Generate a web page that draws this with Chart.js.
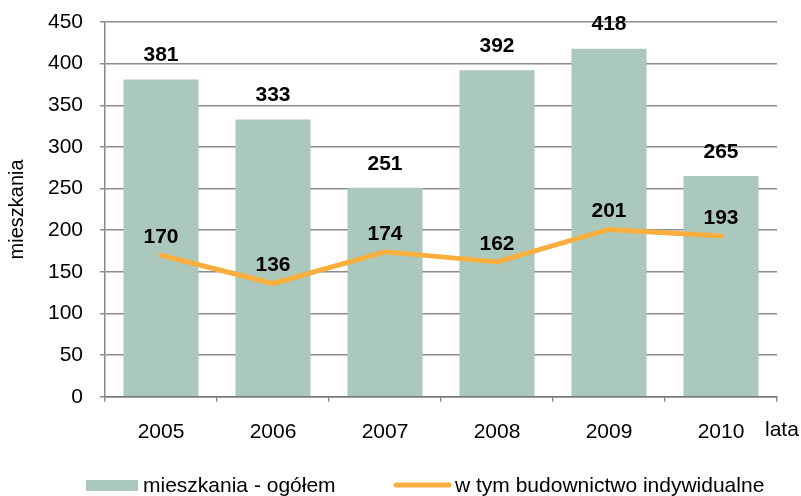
<!DOCTYPE html>
<html>
<head>
<meta charset="utf-8">
<script src="https://cdn.jsdelivr.net/npm/chart.js@4/dist/chart.umd.min.js"></script>
<style>
html,body{margin:0;padding:0;background:#fff;}
#wrap{width:801px;height:496px;position:relative;}
</style>
</head>
<body>
<div id="wrap"><canvas id="c" width="801" height="496"></canvas></div>
<script>
const years = ['2005','2006','2007','2008','2009','2010'];
const totalDwellings = [381, 333, 251, 392, 418, 265];
const individualDwellings = [170, 136, 174, 162, 201, 193];
const yTicks = [0, 50, 100, 150, 200, 250, 300, 350, 400, 450];
const seriesNames = ['mieszkania - ogółem', 'w tym budownictwo indywidualne'];
const yTitle = 'mieszkania';
const xTitle = 'lata';

const FONT = '"Liberation Sans", Arial, sans-serif';
const BAR_COLOR = '#ABC8BD';
const LINE_COLOR = '#FAAE3E';
const GRID = '#8c8c8c';

const labelPlugin = {
  id: 'labels',
  afterDatasetsDraw(chart) {
    const ctx = chart.ctx;
    const ds = chart.data.datasets;
    const barIdx = ds.findIndex(d => d.type === 'bar');
    const lineIdx = ds.findIndex(d => d.type === 'line');
    ctx.save();
    ctx.font = 'bold 21px ' + FONT;
    ctx.fillStyle = '#000';
    ctx.textAlign = 'center';
    ctx.textBaseline = 'middle';
    chart.getDatasetMeta(barIdx).data.forEach((el, i) => {
      ctx.fillText(String(ds[barIdx].data[i]), el.x, el.y - 24);
    });
    chart.getDatasetMeta(lineIdx).data.forEach((el, i) => {
      ctx.fillText(String(ds[lineIdx].data[i]), el.x, el.y - 18);
    });
    ctx.font = '21px ' + FONT;
    ctx.textAlign = 'left';
    ctx.fillText(xTitle, chart.chartArea.right - 12, chart.chartArea.bottom + 33);
    // legend
    const ly = 485;
    ctx.fillStyle = BAR_COLOR;
    ctx.fillRect(86, ly - 5, 52, 11);
    ctx.fillStyle = '#000';
    ctx.fillText(ds[barIdx].label, 143, ly + 1);
    ctx.strokeStyle = LINE_COLOR;
    ctx.lineWidth = 5;
    ctx.lineCap = 'round';
    ctx.beginPath();
    ctx.moveTo(396, ly);
    ctx.lineTo(449, ly);
    ctx.stroke();
    ctx.fillText(ds[lineIdx].label, 455, ly + 1);
    ctx.restore();
  }
};

new Chart(document.getElementById('c'), {
  data: {
    labels: years,
    datasets: [
      {
        type: 'line',
        label: seriesNames[1],
        data: individualDwellings,
        borderColor: LINE_COLOR,
        backgroundColor: LINE_COLOR,
        borderWidth: 5,
        borderCapStyle: 'round',
        borderJoinStyle: 'round',
        pointRadius: 0,
        tension: 0,
        order: 0
      },
      {
        type: 'bar',
        label: seriesNames[0],
        data: totalDwellings,
        backgroundColor: BAR_COLOR,
        borderWidth: 0,
        categoryPercentage: 1,
        barPercentage: 0.67,
        order: 1
      }
    ]
  },
  options: {
    responsive: false,
    animation: false,
    devicePixelRatio: 1,
    layout: { padding: { left: 0, right: 24, top: 22, bottom: 33 } },
    plugins: { legend: { display: false }, tooltip: { enabled: false } },
    scales: {
      x: {
        type: 'category',
        offset: true,
        grid: { offset: true, drawOnChartArea: false, drawTicks: true, tickLength: 5, color: GRID, lineWidth: 1.5 },
        border: { display: true, color: '#777', width: 1.5 },
        ticks: { color: '#000', font: { family: FONT, size: 21 }, padding: 18, maxRotation: 0 },
        afterFit(scale) { scale.paddingLeft = 0; scale.paddingRight = 0; }
      },
      y: {
        min: 0,
        max: 450,
        afterBuildTicks(scale) { scale.ticks = yTicks.map(v => ({ value: v })); },
        afterFit(scale) { scale.width = 105; scale.paddingTop = 0; scale.paddingBottom = 0; },
        grid: { color: GRID, lineWidth: 1.5, tickLength: 5 },
        border: { display: true, color: '#888', width: 1.5 },
        ticks: { color: '#000', font: { family: FONT, size: 21 }, padding: 17 },
        title: { display: true, text: yTitle, color: '#000', font: { family: FONT, size: 20 }, padding: { top: 5, bottom: 0 } }
      }
    }
  },
  plugins: [labelPlugin]
});
</script>
</body>
</html>
